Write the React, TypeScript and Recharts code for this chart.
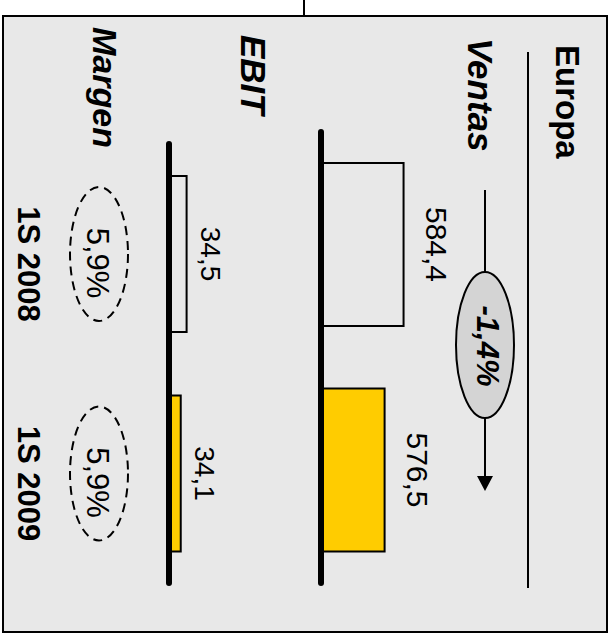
import React from "react";
import { BarChart, Bar, XAxis, YAxis, Cell, LabelList, ReferenceLine } from "recharts";

const periods = ["1S 2008", "1S 2009"];
const ventas = [584.4, 576.5];
const ebit = [34.5, 34.1];
const margen = [5.9, 5.9];
const ventasChange = -1.4;
const barFills = ["#e8e8e8", "#ffcc00"];

const data = periods.map((p, i) => ({ period: p, ventas: ventas[i], ebit: ebit[i], margen: margen[i] }));

const W = 611;
const H = 635;
const FONT = "'Liberation Sans', Arial, sans-serif";

const fmt = (v: number, d = 1) => v.toFixed(d).replace(".", ",");

const box = (props: any) => {
  const vb = props.viewBox || props;
  return { x: vb.x ?? props.x, y: vb.y ?? props.y, width: vb.width ?? props.width, height: vb.height ?? props.height };
};

const valueLabel = (offset: number, size: number) => (props: any) => {
  const { x, y, width, height } = box(props);
  const cx = x + width + offset;
  const cy = y + height / 2;
  return (
    <text
      transform={`translate(${cx},${cy}) rotate(90)`}
      textAnchor="middle"
      dominantBaseline="central"
      fontFamily={FONT}
      fontSize={size}
      fill="#000"
    >
      {fmt(props.value)}
    </text>
  );
};

const margenLabel = (props: any) => {
  const { y, height } = box(props);
  const cy = y + height / 2;
  return (
    <g>
      <ellipse cx={99} cy={cy} rx={29} ry={67} fill="none" stroke="#000" strokeWidth={2} strokeDasharray="9 6" />
      <text
        transform={`translate(97,${cy + 9}) rotate(90)`}
        textAnchor="middle"
        dominantBaseline="central"
        fontFamily={FONT}
        fontSize={31}
        fill="#000"
      >
        {fmt(props.value)}%
      </text>
    </g>
  );
};

// category names, drawn in the left column next to each EBIT bar
const periodLabel = (props: any) => {
  const { y, height } = box(props);
  return (
    <text
      transform={`translate(28,${y + height / 2 + 10}) rotate(90)`}
      textAnchor="middle"
      dominantBaseline="central"
      fontFamily={FONT}
      fontSize={31}
      fontWeight="bold"
      fill="#000"
    >
      {props.value}
    </text>
  );
};

const Title = ({ x, y, text, size, italic }: any) => (
  <text
    transform={`translate(${x},${y}) rotate(90)`}
    textAnchor="start"
    dominantBaseline="central"
    fontFamily={FONT}
    fontSize={size}
    fontWeight="bold"
    fontStyle={italic ? "italic" : "normal"}
    fill="#000"
  >
    {text}
  </text>
);

const Frame = () => (
  <svg width={W} height={H} style={{ position: "absolute", left: 0, top: 0 }}>
    <line x1={304} y1={0} x2={304} y2={16} stroke="#000" strokeWidth={2} />
    <rect x={3} y={16} width={604} height={616} fill="#e8e8e8" stroke="#000" strokeWidth={2} />
    <Title x={567} y={45} text="Europa" size={33} />
    <line x1={528} y1={52} x2={528} y2={588} stroke="#000" strokeWidth={2} />
    <Title x={480} y={38} text="Ventas" size={35} italic />
    <Title x={253} y={35} text="EBIT" size={35} italic />
    <Title x={105} y={27} text="Margen" size={34} italic />
    <line x1={485} y1={190} x2={485} y2={272} stroke="#000" strokeWidth={2} />
    <line x1={485} y1={418} x2={485} y2={478} stroke="#000" strokeWidth={2} />
    <polygon points="477,476 493,476 485,491" fill="#000" />
    <ellipse cx={485} cy={345} rx={29} ry={73} fill="#d4d4d4" stroke="#000" strokeWidth={2} />
    <text
      transform={`translate(487,346) rotate(90)`}
      textAnchor="middle"
      dominantBaseline="central"
      fontFamily={FONT}
      fontSize={31}
      fontWeight="bold"
      fontStyle="italic"
      fill="#000"
    >
      {fmt(ventasChange)}%
    </text>
  </svg>
);

export default function App() {
  return (
    <div style={{ position: "absolute", left: 0, top: 0, width: W, height: H }}>
      <Frame />
      <div style={{ position: "absolute", left: 0, top: 0 }}>
        <BarChart width={W} height={H} data={data} layout="vertical" margin={{ top: 132, bottom: 52, left: 321, right: 170 }}>
          <XAxis type="number" domain={[550, 600]} allowDataOverflow hide />
          <YAxis type="category" dataKey="period" hide />
          <Bar dataKey="ventas" barSize={163} stroke="#000" strokeWidth={2} isAnimationActive={false}>
            {data.map((d, i) => (
              <Cell key={d.period} fill={barFills[i]} />
            ))}
            <LabelList dataKey="ventas" content={valueLabel(33, 30)} />
          </Bar>
          <ReferenceLine x={550} stroke="#000" strokeWidth={6} strokeLinecap="round" />
        </BarChart>
      </div>
      <div style={{ position: "absolute", left: 0, top: 0 }}>
        <BarChart width={W} height={H} data={data} layout="vertical" margin={{ top: 144, bottom: 52, left: 169, right: 398 }}>
          <XAxis type="number" domain={[33.3, 36.3]} allowDataOverflow hide />
          <YAxis type="category" dataKey="period" hide />
          <Bar dataKey="ebit" barSize={156} stroke="#000" strokeWidth={2} isAnimationActive={false}>
            {data.map((d, i) => (
              <Cell key={d.period} fill={barFills[i]} />
            ))}
            <LabelList dataKey="ebit" content={valueLabel(24, 28)} />
            <LabelList dataKey="margen" content={margenLabel} />
            <LabelList dataKey="period" content={periodLabel} />
          </Bar>
          <ReferenceLine x={33.3} stroke="#000" strokeWidth={6} strokeLinecap="round" />
        </BarChart>
      </div>
    </div>
  );
}
